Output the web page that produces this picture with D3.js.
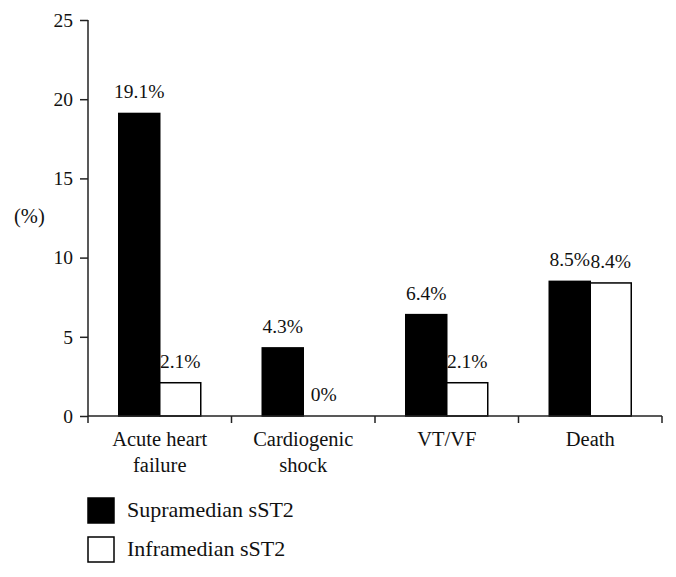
<!DOCTYPE html>
<html><head><meta charset="utf-8">
<script src="https://cdn.jsdelivr.net/npm/d3@7"></script>
<style>body{margin:0;background:#fff}svg{display:block}text{font-family:"Liberation Serif",serif;fill:#111}</style>
</head><body>
<svg id="c" width="676" height="577"></svg>
<script>
const categories = ["Acute heart\nfailure", "Cardiogenic\nshock", "VT/VF", "Death"];
const seriesNames = ["Supramedian sST2", "Inframedian sST2"];
const supramedian = [19.1, 4.3, 6.4, 8.5];
const inframedian = [2.1, 0, 2.1, 8.4];
const valueLabels = [["19.1%","4.3%","6.4%","8.5%"],["2.1%","0%","2.1%","8.4%"]];
const yTicks = [0,5,10,15,20,25];

const svg = d3.select("#c");
const fsNum = 19.5, fsCat = 20.5, fsLeg = 22;
const x = d3.scaleBand().domain(categories).range([88, 662]).paddingInner(0).paddingOuter(0);
const y = d3.scaleLinear().domain([0,25]).range([416, 20]);
const barW = 41;
const series = [supramedian, inframedian];
const fills = ["#000", "#fff"];

// bars
series.forEach((vals, si) => {
  svg.append("g").selectAll("rect").data(vals).enter().append("rect")
    .attr("x", (d,i) => x(categories[i]) + x.bandwidth()/2 - barW + si*barW)
    .attr("y", d => y(d))
    .attr("width", barW)
    .attr("height", d => y(0) - y(d))
    .attr("fill", fills[si])
    .attr("stroke", "#000").attr("stroke-width", 1.5);
  svg.append("g").selectAll("text").data(vals).enter().append("text")
    .attr("x", (d,i) => x(categories[i]) + x.bandwidth()/2 - barW/2 + si*barW)
    .attr("y", d => y(d) - 15)
    .attr("text-anchor", "middle").attr("font-size", fsNum)
    .text((d,i) => valueLabels[si][i]);
});

// y axis
const yAxis = svg.append("g").attr("transform", "translate(88,0)")
  .call(d3.axisLeft(y).tickValues(yTicks).tickSize(8).tickPadding(7));
yAxis.selectAll("text").attr("font-size", fsNum).attr("font-family", "Liberation Serif").attr("fill", "#111");
yAxis.selectAll("line,path").attr("stroke", "#222").attr("stroke-width", 1.5);
yAxis.select("path").attr("d", `M0,${y(25)}V${y(0)}`);

// x axis
const xAxis = svg.append("g").attr("transform", `translate(0,${y(0)})`);
xAxis.append("line").attr("x1", 88).attr("x2", 662).attr("stroke", "#222").attr("stroke-width", 1.5);
const bounds = categories.map(c => x(c)).concat([x(categories[3]) + x.bandwidth()]);
xAxis.selectAll("line.t").data(bounds).enter().append("line").attr("class","t")
  .attr("x1", d => d).attr("x2", d => d).attr("y1", 0).attr("y2", 7)
  .attr("stroke", "#222").attr("stroke-width", 1.5);
categories.forEach(c => {
  const t = xAxis.append("text").attr("text-anchor", "middle").attr("font-size", fsCat)
    .attr("x", x(c) + x.bandwidth()/2).attr("y", 30);
  c.split("\n").forEach((ln, i) => t.append("tspan").attr("x", x(c) + x.bandwidth()/2).attr("dy", i ? 26 : 0).text(ln));
});

// y label
svg.append("text").attr("x", 14).attr("y", 223).attr("font-size", fsCat).text("(%)");

// legend
seriesNames.forEach((n, i) => {
  const g = svg.append("g").attr("transform", `translate(88,${498 + i*39})`);
  g.append("rect").attr("width", 26).attr("height", 25).attr("fill", fills[i]).attr("stroke", "#000").attr("stroke-width", 1.5);
  g.append("text").attr("x", 39).attr("y", 19).attr("font-size", fsLeg).text(n);
});
</script>
</body></html>
